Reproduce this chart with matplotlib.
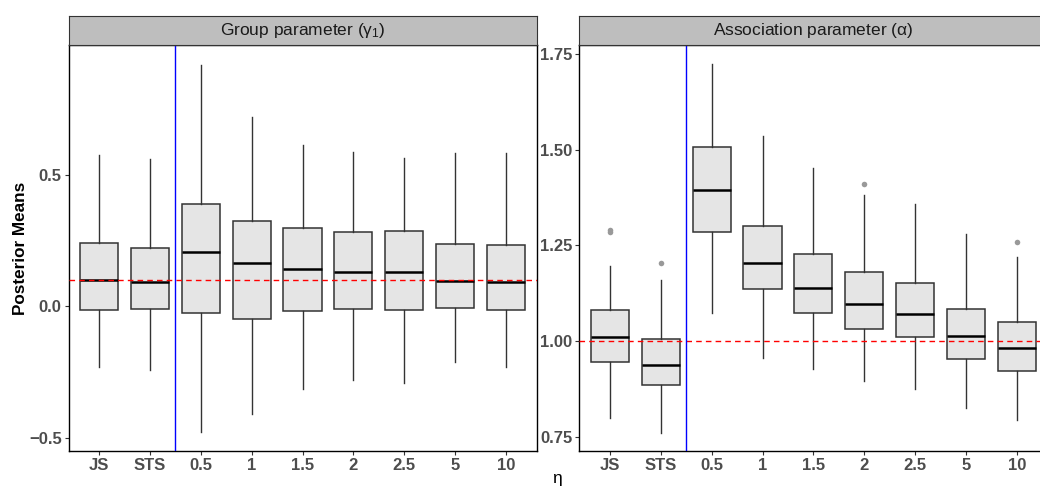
import matplotlib
matplotlib.use("Agg")
import matplotlib.pyplot as plt

plt.rcParams['font.family'] = ['Liberation Sans', 'DejaVu Sans']
plt.rcParams['mathtext.fontset'] = 'custom'
plt.rcParams['mathtext.rm'] = 'Liberation Sans'
plt.rcParams['mathtext.it'] = 'Liberation Sans'

categories = ['JS', 'STS', '0.5', '1', '1.5', '2', '2.5', '5', '10']

# group parameter (gamma_1): whisker low, Q1, median, Q3, whisker high
g_low = [-0.232, -0.241, -0.480, -0.412, -0.314, -0.279, -0.292, -0.214, -0.233]
g_q1 = [-0.015, -0.010, -0.027, -0.047, -0.018, -0.011, -0.015, -0.008, -0.013]
g_med = [0.100, 0.093, 0.206, 0.163, 0.142, 0.131, 0.129, 0.097, 0.093]
g_q3 = [0.242, 0.221, 0.391, 0.325, 0.297, 0.282, 0.285, 0.238, 0.235]
g_high = [0.575, 0.559, 0.920, 0.722, 0.616, 0.587, 0.566, 0.582, 0.585]
g_out = [[], [], [], [], [], [], [], [], []]

# association parameter (alpha)
a_low = [0.798, 0.760, 1.072, 0.955, 0.926, 0.896, 0.875, 0.824, 0.794]
a_q1 = [0.944, 0.886, 1.285, 1.135, 1.072, 1.032, 1.010, 0.953, 0.922]
a_med = [1.010, 0.938, 1.395, 1.203, 1.138, 1.097, 1.071, 1.014, 0.982]
a_q3 = [1.080, 1.006, 1.508, 1.300, 1.228, 1.181, 1.151, 1.084, 1.050]
a_high = [1.196, 1.159, 1.724, 1.536, 1.452, 1.381, 1.358, 1.280, 1.219]
a_out = [[1.284, 1.290], [1.204], [], [], [], [1.410], [], [], [1.258]]

g_true = 0.1
a_true = 1.0

W, H = 1040, 486
fig = plt.figure(figsize=(W / 100, H / 100), dpi=100)


def make_panel(x0, x1, title, low, q1, med, q3, high, out, ylim, yticks, ylabels, ref):
    ax = fig.add_axes([x0 / W, (H - 451) / H, (x1 - x0) / W, (451 - 45) / H])
    stats = []
    for i in range(len(categories)):
        stats.append(dict(whislo=low[i], q1=q1[i], med=med[i], q3=q3[i],
                          whishi=high[i], fliers=out[i]))
    ax.bxp(stats, positions=range(1, len(categories) + 1), widths=0.75,
           patch_artist=True, showcaps=False,
           boxprops=dict(facecolor='#E5E5E5', edgecolor='#333333', linewidth=1.1),
           whiskerprops=dict(color='#333333', linewidth=1.0),
           medianprops=dict(color='black', linewidth=1.8),
           flierprops=dict(marker='o', markersize=4, markerfacecolor='#999999',
                           markeredgecolor='none'))
    ax.axhline(ref, color='red', linestyle=(0, (4, 3)), linewidth=1.0, zorder=3)
    ax.axvline(2.5, color='blue', linewidth=1.0, zorder=3)
    ax.set_xlim(0.4, len(categories) + 0.6)
    ax.set_ylim(*ylim)
    ax.set_yticks(yticks)
    ax.set_yticklabels(ylabels)
    ax.set_xticks(range(1, len(categories) + 1))
    ax.set_xticklabels(categories)
    for s in ax.spines.values():
        s.set_color('black')
        s.set_linewidth(1.0)
    ax.tick_params(length=3, width=0.8, color='#333333', labelcolor='#4D4D4D',
                   labelsize=12, pad=2)
    for lab in ax.get_xticklabels() + ax.get_yticklabels():
        lab.set_fontweight('bold')

    # facet strip
    st = fig.add_axes([x0 / W, (H - 45) / H, (x1 - x0) / W, 29 / H])
    st.set_xticks([])
    st.set_yticks([])
    st.set_facecolor('#BEBEBE')
    for s in st.spines.values():
        s.set_color('#333333')
        s.set_linewidth(0.8)
    st.text(0.5, 0.5, title, transform=st.transAxes, ha='center', va='center',
            fontsize=12.5, color='#1A1A1A')
    return ax


ax1 = make_panel(68.6, 536.5, r'Group parameter ($\mathrm{\gamma}_1$)',
                 g_low, g_q1, g_med, g_q3, g_high, g_out,
                 (-0.551, 0.995), [-0.5, 0.0, 0.5], ['\u22120.5', '0.0', '0.5'], g_true)
ax2 = make_panel(579.3, 1047.5, r'Association parameter ($\mathrm{\alpha}$)',
                 a_low, a_q1, a_med, a_q3, a_high, a_out,
                 (0.7126, 1.7735), [0.75, 1.0, 1.25, 1.5, 1.75],
                 ['0.75', '1.00', '1.25', '1.50', '1.75'], a_true)

fig.text(21 / W, 1 - 248 / H, 'Posterior Means', rotation=90, ha='center',
         va='center', fontsize=12.3, fontweight='bold', color='black')
fig.text(557 / W, 1 - 478 / H, '\u03b7', ha='center', va='center',
         fontsize=12.5, color='black')

fig.savefig('out.png', dpi=100)
